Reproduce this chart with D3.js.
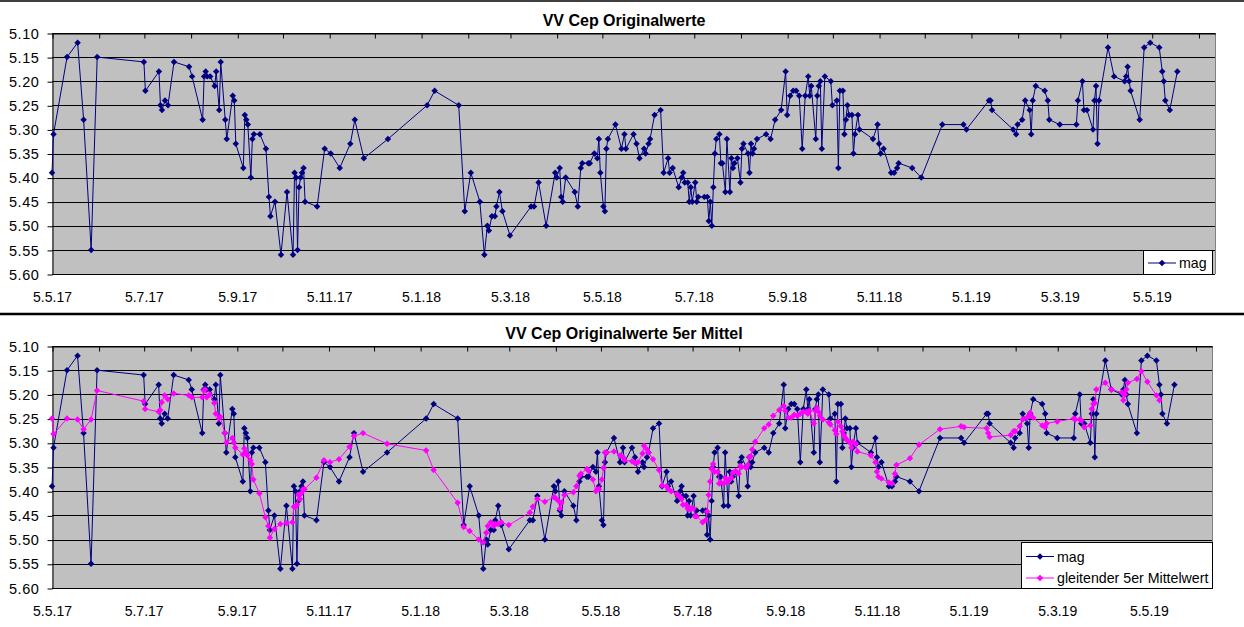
<!DOCTYPE html>
<html>
<head>
<meta charset="utf-8">
<script src="https://cdn.jsdelivr.net/npm/d3@7"></script>
<style>
  body { margin: 0; background: #fff; }
  svg { display: block; }
</style>
</head>
<body>
<div id="chart"></div>
<script>
// Beobachtungsdaten VV Cep (Datum, visuelle Helligkeit)
const datum = [
  "2017-05-05","2017-05-06","2017-05-15","2017-05-22","2017-05-26","2017-05-31","2017-06-04","2017-07-05",
  "2017-07-06","2017-07-15","2017-07-16","2017-07-17","2017-07-19","2017-07-21","2017-07-25","2017-08-04",
  "2017-08-06","2017-08-13","2017-08-14","2017-08-15","2017-08-16","2017-08-18","2017-08-21","2017-08-22",
  "2017-08-24","2017-08-25","2017-08-28","2017-08-29","2017-09-02","2017-09-03","2017-09-04","2017-09-09",
  "2017-09-10","2017-09-11","2017-09-12","2017-09-14","2017-09-15","2017-09-16","2017-09-20","2017-09-24",
  "2017-09-26","2017-09-27","2017-09-30","2017-10-04","2017-10-08","2017-10-12","2017-10-13","2017-10-14",
  "2017-10-15","2017-10-16","2017-10-17","2017-10-18","2017-10-19","2017-10-20","2017-10-28","2017-11-02",
  "2017-11-06","2017-11-12","2017-11-19","2017-11-22","2017-11-28","2017-12-14","2018-01-09","2018-01-14",
  "2018-01-30","2018-02-03","2018-02-07","2018-02-13","2018-02-16","2018-02-18","2018-02-19","2018-02-21",
  "2018-02-23","2018-02-24","2018-02-26","2018-02-28","2018-03-05","2018-03-19","2018-03-21","2018-03-24",
  "2018-03-29","2018-04-04","2018-04-05","2018-04-07","2018-04-08","2018-04-09","2018-04-11","2018-04-17",
  "2018-04-19","2018-04-21","2018-04-22","2018-04-26","2018-04-27","2018-04-30","2018-05-02","2018-05-03",
  "2018-05-04","2018-05-06","2018-05-07","2018-05-08","2018-05-09","2018-05-14","2018-05-18","2018-05-20",
  "2018-05-21","2018-05-26","2018-05-28","2018-05-30","2018-06-02","2018-06-03","2018-06-05","2018-06-06",
  "2018-06-09","2018-06-13","2018-06-15","2018-06-18","2018-06-19","2018-06-21","2018-06-25","2018-06-27",
  "2018-06-28","2018-06-29","2018-07-01","2018-07-02","2018-07-03","2018-07-04","2018-07-06","2018-07-07",
  "2018-07-08","2018-07-12","2018-07-14","2018-07-15","2018-07-16","2018-07-17","2018-07-18","2018-07-19",
  "2018-07-20","2018-07-22","2018-07-23","2018-07-24","2018-07-26","2018-07-27","2018-07-29","2018-07-30",
  "2018-07-31","2018-08-01","2018-08-03","2018-08-05","2018-08-06","2018-08-07","2018-08-10","2018-08-11",
  "2018-08-12","2018-08-13","2018-08-14","2018-08-16","2018-08-22","2018-08-25","2018-08-28","2018-09-01",
  "2018-09-04","2018-09-05","2018-09-07","2018-09-09","2018-09-11","2018-09-13","2018-09-15","2018-09-17",
  "2018-09-19","2018-09-20","2018-09-21","2018-09-24","2018-09-25","2018-09-26","2018-09-27","2018-09-28",
  "2018-09-30","2018-10-04","2018-10-05","2018-10-08","2018-10-09","2018-10-10","2018-10-12","2018-10-13",
  "2018-10-14","2018-10-15","2018-10-16","2018-10-18","2018-10-19","2018-10-20","2018-10-22","2018-10-23",
  "2018-11-01","2018-11-04","2018-11-05","2018-11-06","2018-11-08","2018-11-13","2018-11-15","2018-11-17",
  "2018-11-18","2018-11-27","2018-12-03","2018-12-17","2018-12-31","2019-01-02","2019-01-17","2019-01-18",
  "2019-01-19","2019-02-02","2019-02-04","2019-02-05","2019-02-08","2019-02-10","2019-02-13","2019-02-14",
  "2019-02-15","2019-02-17","2019-02-23","2019-02-25","2019-02-26","2019-03-05","2019-03-16","2019-03-17",
  "2019-03-20","2019-03-21","2019-03-23","2019-03-27","2019-03-28","2019-03-29","2019-03-30","2019-03-31",
  "2019-04-06","2019-04-10","2019-04-17","2019-04-18","2019-04-19","2019-04-20","2019-04-21","2019-04-27",
  "2019-04-30","2019-05-04","2019-05-10","2019-05-12","2019-05-13","2019-05-14","2019-05-17","2019-05-22"
];

const mag = [
  5.39,5.31,5.15,5.12,5.28,5.55,5.15,5.16, 5.22,5.18,5.25,5.26,5.24,5.25,5.16,5.17,
  5.19,5.28,5.19,5.18,5.19,5.19,5.21,5.18, 5.26,5.16,5.28,5.32,5.23,5.24,5.33,5.38,
  5.27,5.28,5.29,5.40,5.32,5.31,5.31,5.34, 5.44,5.48,5.45,5.56,5.43,5.56,5.39,5.40,
  5.55,5.42,5.40,5.39,5.38,5.45,5.46,5.34, 5.35,5.38,5.33,5.28,5.36,5.32,5.25,5.22,
  5.25,5.47,5.39,5.45,5.56,5.50,5.51,5.48, 5.48,5.46,5.43,5.47,5.52,5.46,5.46,5.41,
  5.50,5.39,5.40,5.38,5.44,5.45,5.40,5.43, 5.46,5.38,5.37,5.37,5.37,5.35,5.36,5.32,
  5.39,5.46,5.47,5.34,5.32,5.29,5.34,5.31, 5.34,5.31,5.33,5.36,5.34,5.35,5.33,5.32,
  5.27,5.26,5.39,5.36,5.39,5.38,5.42,5.40, 5.39,5.41,5.41,5.45,5.42,5.45,5.41,5.45,
  5.44,5.44,5.44,5.49,5.45,5.50,5.42,5.35, 5.32,5.31,5.37,5.37,5.43,5.32,5.43,5.36,
  5.38,5.37,5.36,5.41,5.34,5.33,5.35,5.39, 5.33,5.35,5.34,5.32,5.31,5.32,5.28,5.26,
  5.18,5.27,5.23,5.22,5.22,5.23,5.34,5.23, 5.19,5.23,5.21,5.32,5.23,5.21,5.20,5.34,
  5.19,5.20,5.25,5.24,5.38,5.22,5.22,5.31, 5.28,5.25,5.27,5.27,5.35,5.31,5.27,5.30,
  5.32,5.29,5.33,5.35,5.34,5.39,5.39,5.38, 5.37,5.38,5.40,5.29,5.29,5.30,5.24,5.24,
  5.26,5.30,5.31,5.29,5.28,5.24,5.26,5.31, 5.24,5.21,5.22,5.24,5.28,5.29,5.29,5.24,
  5.20,5.26,5.26,5.30,5.24,5.21,5.33,5.24, 5.13,5.19,5.20,5.19,5.17,5.20,5.22,5.28,
  5.13,5.12,5.13,5.18,5.20,5.24,5.26,5.18
];

// gleitender 5er Mittelwert (gehoert zu den ersten 244 Datumswerten)
const mittel = [
  5.250,5.282,5.250,5.252,5.272,5.252,5.192,5.214, 5.230,5.236,5.232,5.216,5.202,5.210,5.198,5.202,
  5.206,5.206,5.192,5.190,5.206,5.200,5.218,5.240, 5.250,5.246,5.280,5.300,5.290,5.300,5.310,5.324,
  5.312,5.320,5.326,5.336,5.344,5.376,5.404,5.454, 5.472,5.496,5.478,5.468,5.466,5.464,5.432,5.432,
  5.428,5.408,5.416,5.404,5.396,5.396,5.372,5.336, 5.340,5.334,5.308,5.286,5.280,5.302,5.316,5.356,
  5.424,5.474,5.482,5.500,5.506,5.486,5.472,5.464, 5.472,5.468,5.468,5.464,5.470,5.444,5.432,5.416,
  5.422,5.412,5.414,5.420,5.436,5.424,5.408,5.402, 5.390,5.368,5.364,5.354,5.358,5.376,5.400,5.396,
  5.396,5.376,5.352,5.320,5.320,5.318,5.326,5.330, 5.336,5.338,5.342,5.340,5.322,5.306,5.314,5.320,
  5.334,5.356,5.388,5.390,5.396,5.400,5.406,5.412, 5.416,5.428,5.428,5.436,5.434,5.438,5.436,5.452,
  5.452,5.464,5.460,5.442,5.408,5.380,5.354,5.344, 5.360,5.360,5.384,5.382,5.384,5.372,5.380,5.376,
  5.372,5.362,5.358,5.364,5.348,5.350,5.352,5.346, 5.330,5.328,5.314,5.298,5.270,5.262,5.244,5.232,
  5.224,5.234,5.248,5.248,5.242,5.244,5.240,5.236, 5.236,5.240,5.234,5.260,5.234,5.228,5.236,5.244,
  5.252,5.258,5.262,5.274,5.282,5.256,5.266,5.276, 5.284,5.290,5.294,5.300,5.310,5.298,5.302,5.318,
  5.326,5.340,5.360,5.370,5.374,5.382,5.384,5.364, 5.346,5.332,5.304,5.272,5.266,5.268,5.270,5.280,
  5.288,5.284,5.276,5.276,5.266,5.252,5.248,5.244, 5.238,5.248,5.264,5.268,5.260,5.256,5.250,5.252,
  5.252,5.254,5.268,5.264,5.230,5.220,5.218,5.190, 5.176,5.190,5.196,5.212,5.200,5.190,5.176,5.168,
  5.152,5.174,5.202,5.212
];

const yTicks = [5.10, 5.15, 5.20, 5.25, 5.30, 5.35, 5.40, 5.45, 5.50, 5.55, 5.60];
const xLabels = ["5.5.17","5.7.17","5.9.17","5.11.17","5.1.18","5.3.18","5.5.18",
                 "5.7.18","5.9.18","5.11.18","5.1.19","5.3.19","5.5.19"];
const xRange = ["2017-05-05", "2019-06-16"];

const W = 1244, H = 627;
const navy = "#000080", pink = "#ff00ff";
const font = "Arial, 'Liberation Sans', sans-serif";

const parse = d3.utcParse("%Y-%m-%d");
const parseLabel = d3.utcParse("%d.%m.%y");
const dates = datum.map(parse);
const labelDates = xLabels.map(parseLabel);
const xDomain = xRange.map(parse);
// Monatsstriche jeweils am 5.
const monthTicks = d3.utcMonth.range(d3.utcMonth.floor(xDomain[0]), xDomain[1])
  .map(m => d3.utcDay.offset(m, 4));

const magData = dates.map((d, i) => ({date: d, value: mag[i]}));
const mittelData = mittel.map((v, i) => ({date: dates[i], value: v}));

const svg = d3.select("#chart").append("svg")
  .attr("width", W).attr("height", H)
  .attr("font-family", font);

svg.append("rect").attr("width", W).attr("height", H).attr("fill", "#fff");

// Rahmenlinien des Blattes
svg.append("line").attr("x1", 0).attr("x2", W).attr("y1", 1).attr("y2", 1)
  .attr("stroke", "#000").attr("stroke-width", 1.5);
svg.append("line").attr("x1", 0).attr("x2", W).attr("y1", 314).attr("y2", 314)
  .attr("stroke", "#000").attr("stroke-width", 2.5);

let marker = d3.symbol(d3.symbolSquare, 21);

let drawPanel = (cfg) => {
  const x = d3.scaleUtc().domain(xDomain).range([cfg.left, cfg.right]);
  const y = d3.scaleLinear().domain([5.10, 5.60]).range([cfg.top, cfg.bottom]);
  const g = svg.append("g");

  g.append("rect")
    .attr("x", cfg.left).attr("y", cfg.top)
    .attr("width", cfg.right - cfg.left).attr("height", cfg.bottom - cfg.top)
    .attr("fill", "#c0c0c0");

  // Gitterlinien
  g.selectAll("line.grid").data(yTicks).enter().append("line")
    .attr("class", "grid")
    .attr("x1", cfg.left).attr("x2", cfg.right)
    .attr("y1", d => Math.round(y(d)) + 0.5).attr("y2", d => Math.round(y(d)) + 0.5)
    .attr("stroke", "#000").attr("stroke-width", 1);

  g.append("line")
    .attr("x1", cfg.right + 0.5).attr("x2", cfg.right + 0.5)
    .attr("y1", cfg.top).attr("y2", cfg.bottom)
    .attr("stroke", "#808080");

  // y-Achse
  const yAxis = d3.axisLeft(y)
    .tickValues(yTicks)
    .tickFormat(d3.format(".2f"))
    .tickSizeInner(5).tickSizeOuter(0).tickPadding(8);
  const yg = g.append("g").attr("transform", `translate(${cfg.left + 0.5},0.5)`).call(yAxis);
  yg.selectAll("text")
    .attr("font-family", font).attr("font-size", "14.5px")
    .attr("letter-spacing", "0.6px").attr("fill", "#000");

  // Monatsstriche oben
  const xTop = d3.axisTop(x).tickValues(monthTicks).tickFormat("")
    .tickSizeInner(-5).tickSizeOuter(0);
  g.append("g").attr("transform", `translate(0.5,${Math.round(cfg.top) + 0.5})`).call(xTop);

  // Datumsbeschriftung unten
  const xBottom = d3.axisBottom(x).tickValues(labelDates)
    .tickFormat((d, i) => xLabels[i]).tickSize(0).tickPadding(cfg.labelPad);
  const xg = g.append("g").attr("transform", `translate(0,${cfg.bottom})`).call(xBottom);
  xg.select("path.domain").remove();
  xg.selectAll("text").attr("font-family", font).attr("font-size", "14px").attr("fill", "#000");

  // Titel
  g.append("text")
    .attr("x", 624).attr("y", cfg.titleY)
    .attr("text-anchor", "middle")
    .attr("font-size", "16px").attr("font-weight", "bold")
    .text(cfg.title);

  const line = d3.line().x(d => x(d.date)).y(d => y(d.value));

  cfg.series.forEach(s => {
    g.append("path").datum(s.data)
      .attr("d", line)
      .attr("fill", "none").attr("stroke", s.colour).attr("stroke-width", 1);
    g.selectAll(null).data(s.data).enter().append("path")
      .attr("d", marker)
      .attr("transform", d => `translate(${x(d.date)},${y(d.value)}) rotate(45)`)
      .attr("fill", s.colour);
  });

  // Legende
  const lb = cfg.legend;
  const lg = g.append("g");
  lg.append("rect")
    .attr("x", lb.x + 0.5).attr("y", lb.y + 0.5)
    .attr("width", lb.w).attr("height", lb.h)
    .attr("fill", "#fff").attr("stroke", "#000");
  cfg.series.forEach((s, i) => {
    const ly = lb.y + lb.first + i * lb.step;
    lg.append("line")
      .attr("x1", lb.x + 5).attr("x2", lb.x + 33)
      .attr("y1", ly).attr("y2", ly)
      .attr("stroke", s.colour);
    lg.append("path")
      .attr("d", marker)
      .attr("transform", `translate(${lb.x + 19},${ly}) rotate(45)`)
      .attr("fill", s.colour);
    lg.append("text")
      .attr("x", lb.x + 36).attr("y", ly + 5)
      .attr("font-size", "14.2px")
      .text(s.name);
  });
};

drawPanel({
  title: "VV Cep Originalwerte",
  titleY: 26,
  left: 52, right: 1215, top: 33, bottom: 274,
  labelPad: 18,
  series: [{name: "mag", data: magData, colour: navy}],
  legend: {x: 1143, y: 250, w: 69, h: 24, first: 13, step: 0}
});

drawPanel({
  title: "VV Cep Originalwerte 5er Mittel",
  titleY: 338.5,
  left: 52, right: 1212, top: 346, bottom: 588,
  labelPad: 18,
  series: [
    {name: "mag", data: magData, colour: navy},
    {name: "gleitender 5er Mittelwert", data: mittelData, colour: pink}
  ],
  legend: {x: 1021, y: 542, w: 191, h: 46, first: 14.5, step: 21.5}
});
</script>
</body>
</html>
